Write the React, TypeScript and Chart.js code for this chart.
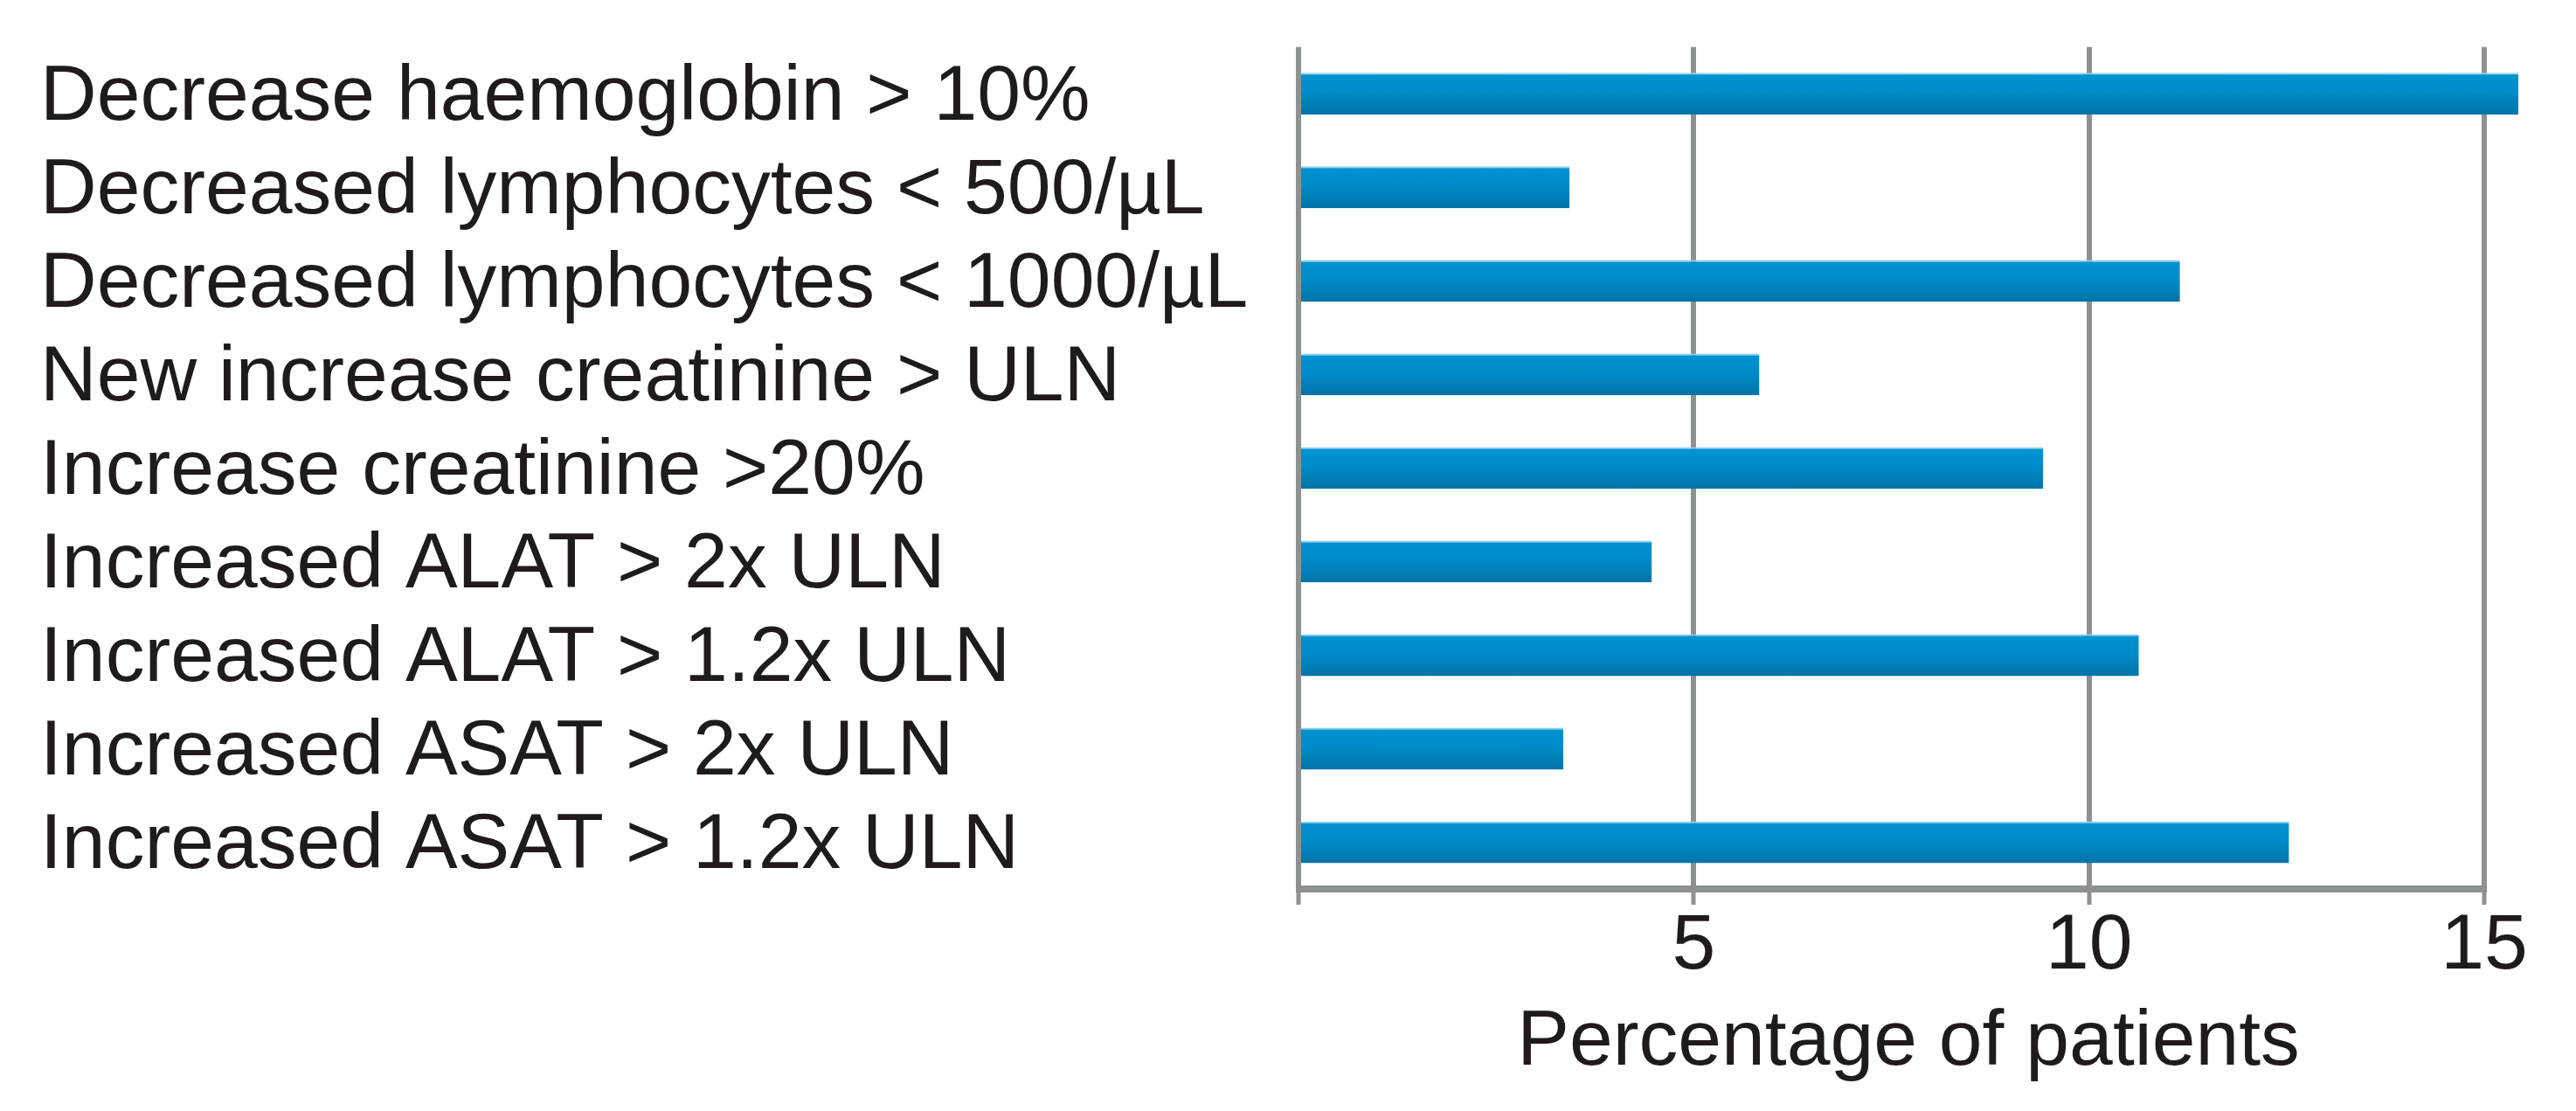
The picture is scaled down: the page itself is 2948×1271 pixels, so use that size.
import React, { useEffect, useRef } from "react";
import { Chart, registerables } from "chart.js";

Chart.register(...registerables);

const categories: string[] = [
  "Decrease haemoglobin > 10%",
  "Decreased lymphocytes < 500/µL",
  "Decreased lymphocytes < 1000/µL",
  "New increase creatinine > ULN",
  "Increase creatinine >20%",
  "Increased ALAT > 2x ULN",
  "Increased ALAT > 1.2x ULN",
  "Increased ASAT > 2x ULN",
  "Increased ASAT > 1.2x ULN",
];

const percentages: number[] = [15.43, 3.43, 11.15, 5.83, 9.42, 4.47, 10.63, 3.35, 12.53];

const xTicks: number[] = [0, 5, 10, 15];
const xTickLabels: string[] = ["", "5", "10", "15"];
const xTitle = "Percentage of patients";

const FONT = "'Liberation Sans', Arial, Helvetica, sans-serif";
const GRID = "#8e9191";
const TEXT = "#1f1b1c";

export default function App() {
  const canvasRef = useRef<HTMLCanvasElement | null>(null);

  useEffect(() => {
    const canvas = canvasRef.current;
    if (!canvas) return;

    const axisLinePlugin = {
      id: "axisLine",
      afterDatasetsDraw(chart: any) {
        const { ctx, chartArea, scales } = chart;
        const xs = scales.x;
        const x0 = xs.getPixelForValue(xTicks[0]);
        const x1 = xs.getPixelForValue(xTicks[xTicks.length - 1]);
        ctx.save();
        ctx.strokeStyle = GRID;
        ctx.lineWidth = 8;
        ctx.beginPath();
        ctx.moveTo(x0 - 3, chartArea.bottom);
        ctx.lineTo(x1 + 3, chartArea.bottom);
        ctx.stroke();
        ctx.restore();
      },
    };

    const barFill = (c: any) => {
      const chart = c.chart;
      const ys = chart.scales && chart.scales.y;
      if (!ys || c.dataIndex == null || !chart.chartArea) return "#0088c8";
      const center = ys.getPixelForValue(c.dataIndex);
      const half = ((ys.bottom - ys.top) / categories.length) * 0.447 / 2;
      const g = chart.ctx.createLinearGradient(0, center - half, 0, center + half);
      g.addColorStop(0, "#0093d3");
      g.addColorStop(0.45, "#008bc9");
      g.addColorStop(1, "#0074a8");
      return g;
    };

    const chart = new Chart(canvas, {
      type: "bar",
      data: {
        labels: categories,
        datasets: [
          {
            data: percentages,
            backgroundColor: barFill,
            borderColor: "#8fd0ef",
            borderWidth: { top: 2, left: 0, right: 0, bottom: 0 },
            borderSkipped: false,
            barPercentage: 0.447,
            categoryPercentage: 1,
          },
        ],
      },
      options: {
        indexAxis: "y",
        responsive: false,
        animation: false,
        devicePixelRatio: 1,
        layout: { padding: { left: 46, top: 52, right: 66, bottom: 0 } },
        plugins: {
          legend: { display: false },
          tooltip: { enabled: false },
        },
        scales: {
          x: {
            type: "linear",
            min: 0,
            max: 15.43,
            afterBuildTicks: (scale: any) => {
              scale.ticks = xTicks.map((v) => ({ value: v }));
            },
            ticks: {
              callback: (v: any) => {
                const i = xTicks.indexOf(Number(v));
                return i >= 0 ? xTickLabels[i] : "";
              },
              font: { family: FONT, size: 89.5, lineHeight: 1 },
              color: TEXT,
              padding: 3,
              maxRotation: 0,
              autoSkip: false,
            },
            grid: {
              color: GRID,
              lineWidth: 6,
              drawTicks: true,
              tickLength: 18,
              tickColor: GRID,
              tickWidth: 5,
            },
            border: { display: false },
            title: {
              display: true,
              text: xTitle,
              font: { family: FONT, size: 89.5, lineHeight: 1.2 },
              color: TEXT,
              padding: { top: 9, bottom: 24 },
            },
          },
          y: {
            type: "category",
            afterFit: (scale: any) => {
              scale.width = 1440;
            },
            ticks: {
              crossAlign: "far",
              font: { family: FONT, size: 89.5 },
              color: TEXT,
              padding: 0,
              labelOffset: 5,
              autoSkip: false,
            },
            grid: { display: false, drawTicks: false },
            border: { display: false },
          },
        },
      },
      plugins: [axisLinePlugin],
    } as any);

    return () => {
      chart.destroy();
    };
  }, []);

  return (
    <div style={{ position: "absolute", left: 0, top: 0, width: 2948, height: 1271, background: "#ffffff" }}>
      <canvas ref={canvasRef} width={2948} height={1271} style={{ display: "block" }} />
    </div>
  );
}
